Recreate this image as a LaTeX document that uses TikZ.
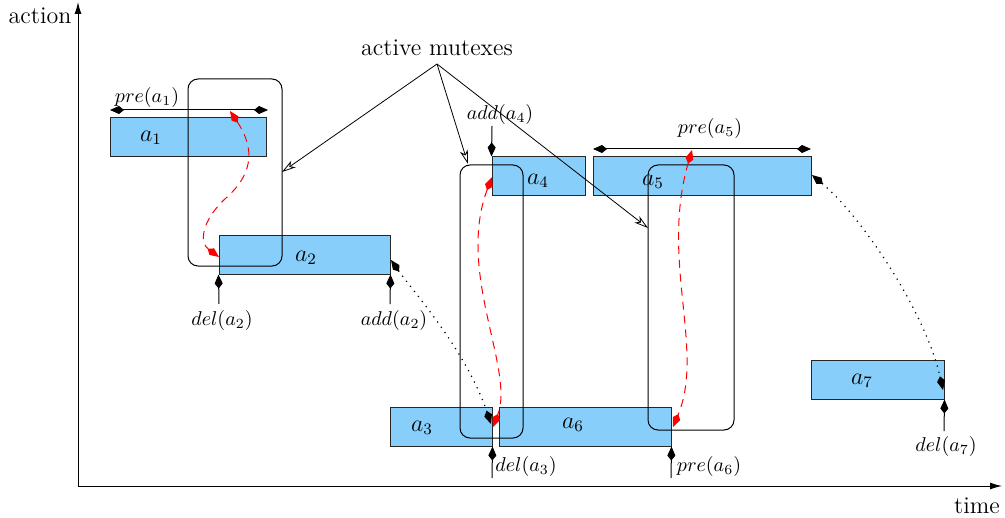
\documentclass[tikz,border=0pt]{standalone}
\usetikzlibrary{arrows.meta,fit}
\definecolor{actblue}{RGB}{135,206,250}
\begin{document}
\begin{tikzpicture}[x=0.5pt,y=-0.5pt,
  act/.style={draw=black!85, fill=actblue, line width=0.5pt, inner sep=0pt},
  mutex/.style={draw=black, rounded corners=5pt, inner sep=0pt, line width=0.5pt},
  boxlbl/.style={inner sep=0pt, font=\large},
  lbl/.style={inner sep=0pt},
  kitetip/.style={-{Kite[length=7pt,width=4pt,inset=2.5pt]}, line width=0.5pt},
  dkitetip/.style={{Kite[length=7pt,width=4pt,inset=2.5pt]}-{Kite[length=7pt,width=4pt,inset=2.5pt]}, line width=0.5pt},
  redlink/.style={{Kite[length=7pt,width=4pt,inset=2.5pt]}-{Kite[length=7pt,width=4pt,inset=2.5pt]}, red, dash pattern=on 4pt off 3pt, line width=0.5pt},
  dotlink/.style={{Kite[length=7pt,width=4pt,inset=2.5pt]}-{Kite[length=7pt,width=4pt,inset=2.5pt]}, dash pattern=on 0.6pt off 2.6pt, line width=0.6pt},
  pointer/.style={-{Stealth[open,length=7pt,width=4pt,inset=2pt]}, line width=0.4pt},
  axis/.style={-{Latex[length=6pt,width=3.5pt]}, line width=0.5pt}]
\useasboundingbox (0,0) rectangle (1005,518);

% axes
\coordinate (O) at (78,486);
\coordinate (ytop) at (78,2);
\coordinate (xend) at (1002,486);
\draw[axis] (O) -- (ytop);
\draw[axis] (O) -- (xend);
\node[lbl, font=\large] (action) at (40,16) {action};
\node[lbl, font=\large] (time) at (977,506) {time};

% action boxes
\node[act, fit={(110,118) (266,157)}] (a1) {};
\node[act, fit={(219,235) (390,274)}] (a2) {};
\node[act, fit={(390,407) (492,446)}] (a3) {};
\node[act, fit={(492,157) (585,196)}] (a4) {};
\node[act, fit={(593,157) (811,196)}] (a5) {};
\node[act, fit={(499,407) (671,446)}] (a6) {};
\node[act, fit={(811,360) (944,399)}] (a7) {};

\node[boxlbl] (la1) at (151,138) {$a_1$};
\node[boxlbl] (la2) at (306,258) {$a_2$};
\node[boxlbl] (la3) at (422,428) {$a_3$};
\node[boxlbl] (la4) at (538,181) {$a_4$};
\node[boxlbl] (la5) at (653,182) {$a_5$};
\node[boxlbl] (la6) at (573,425) {$a_6$};
\node[boxlbl] (la7) at (862,381) {$a_7$};

% mutex boxes
\node[mutex, fit={(188,79) (282,266)}] (m1) {};
\node[mutex, fit={(460,165) (523,438)}] (m2) {};
\node[mutex, fit={(648,165) (734,430)}] (m3) {};

% precondition spans
\coordinate (p1l) at (110,110);
\coordinate (p1r) at (268,110);
\draw[dkitetip] (p1l) -- (p1r);
\node[lbl] (lpre1) at (147,98) {$pre(a_1)$};
\coordinate (p5l) at (593,149);
\coordinate (p5r) at (811,149);
\draw[dkitetip] (p5l) -- (p5r);
\node[lbl] (lpre5) at (710,129) {$pre(a_5)$};

% event stubs
\coordinate (sd2) at (219,304);
\draw[kitetip] (sd2) -- (a2.south west);
\node[lbl] (ldel2) at (222,320) {$del(a_2)$};
\coordinate (sa2) at (390,304);
\draw[kitetip] (sa2) -- (a2.south east);
\node[lbl] (ladd2) at (394,320) {$add(a_2)$};
\coordinate (sd3) at (492,478);
\draw[kitetip] (sd3) -- (a3.south east);
\node[lbl] (ldel3) at (526,466) {$del(a_3)$};
\coordinate (sp6) at (671,478);
\draw[kitetip] (sp6) -- (a6.south east);
\node[lbl] (lpre6) at (709,466) {$pre(a_6)$};
\coordinate (sd7) at (944,431);
\draw[kitetip] (sd7) -- (a7.south east);
\node[lbl] (ldel7) at (946,446) {$del(a_7)$};
\coordinate (sa4) at (492,126);
\draw[kitetip] (sa4) -- (a4.north west);
\node[lbl] (ladd4) at (500,115) {$add(a_4)$};

% active mutexes pointers
\node[lbl, font=\large] (am) at (437,48) {active mutexes};
\coordinate (hub) at (437,64);
\coordinate (e1) at (282,172);
\coordinate (e2) at (468,164);
\coordinate (e3) at (648,228);
\draw[pointer] (hub) -- (e1);
\draw[pointer] (hub) -- (e2);
\draw[pointer] (hub) -- (e3);

% red dashed mutex links
\coordinate (r1t) at (230,111);
\coordinate (r1b) at (219,257);
\draw[redlink] (r1t) .. controls (256,150) and (252,175) .. (226,198)
  .. controls (200,222) and (200,243) .. (r1b);
\coordinate (r2t) at (492,177);
\coordinate (r2b) at (493,427);
\draw[redlink] (r2t) .. controls (456,272) and (515,370) .. (r2b);
\coordinate (r3t) at (692,150);
\coordinate (r3b) at (673,427);
\draw[redlink] (r3t) .. controls (660,260) and (705,350) .. (r3b);

% dotted links
\coordinate (d1s) at (391,260);
\coordinate (d1e) at (491,424);
\draw[dotlink] (d1s) .. controls (412,290) and (466,350) .. (d1e);
\coordinate (d2s) at (812,175);
\coordinate (d2e) at (943,390);
\draw[dotlink] (d2s) .. controls (860,215) and (925,310) .. (d2e);
\end{tikzpicture}
\end{document}
